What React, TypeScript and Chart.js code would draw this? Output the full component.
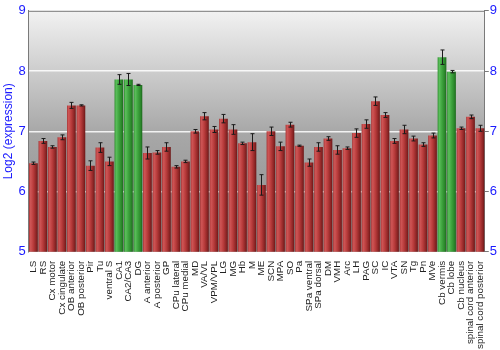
import React, { useEffect, useRef } from "react";
import { Chart, registerables } from "chart.js";
Chart.register(...registerables);

const categories = [
  "LS", "RS", "Cx motor", "Cx cingulate", "OB anterior", "OB posterior", "Pir", "Tu",
  "ventral S", "CA1", "CA2/CA3", "DG", "A anterior", "A posterior", "GP", "CPu lateral",
  "CPu medial", "MD", "VA/VL", "VPM/VPL", "LG", "MG", "Hb", "M", "ME", "SCN", "MPA", "SO",
  "Pa", "SPa ventral", "SPa dorsal", "DM", "VMH", "Arc", "LH", "PAG", "SC", "IC", "VTA",
  "SN", "Tg", "Pn", "MVe", "Cb vermis", "Cb lobe", "Cb nucleus", "spinal cord anterior",
  "spinal cord posterior",
];

const values = [
  6.47, 6.84, 6.74, 6.90, 7.43, 7.43, 6.43, 6.73,
  6.50, 7.86, 7.86, 7.77, 6.64, 6.65, 6.74, 6.41,
  6.50, 7.00, 7.25, 7.03, 7.21, 7.03, 6.80, 6.82, 6.11, 7.00, 6.75, 7.11,
  6.76, 6.48, 6.74, 6.88, 6.69, 6.72, 6.97, 7.12, 7.50, 7.27, 6.84,
  7.03, 6.88, 6.78, 6.93, 8.23, 7.99, 7.05, 7.24,
  7.05,
];

const errors = [
  0.02, 0.04, 0.02, 0.04, 0.05, 0.01, 0.08, 0.08,
  0.07, 0.08, 0.10, 0.01, 0.10, 0.03, 0.07, 0.02,
  0.02, 0.03, 0.06, 0.05, 0.07, 0.08, 0.02, 0.14, 0.17, 0.07, 0.07, 0.04,
  0.01, 0.06, 0.07, 0.03, 0.07, 0.02, 0.07, 0.07, 0.07, 0.04, 0.04,
  0.07, 0.04, 0.03, 0.04, 0.12, 0.02, 0.02, 0.03,
  0.05,
];

const highlighted = ["CA1", "CA2/CA3", "DG", "Cb vermis", "Cb lobe"];

const yMin = 5;
const yMax = 9;
const yStep = 1;

const FONT = "'Liberation Sans', Arial, sans-serif";

function barGradient(ctx: any) {
  const chart = ctx.chart;
  const area = chart.chartArea;
  if (!area) return "#b33";
  const xs = chart.scales.x;
  const i = ctx.dataIndex;
  const green = highlighted.includes(categories[i]);
  const cx = xs.getPixelForValue(i);
  const w = (area.right - area.left) / categories.length * 0.92;
  const g = chart.ctx.createLinearGradient(cx - w / 2, 0, cx + w / 2, 0);
  if (green) {
    g.addColorStop(0, "#2c8c2c");
    g.addColorStop(0.18, "#5cbf5c");
    g.addColorStop(0.5, "#3ea43e");
    g.addColorStop(0.82, "#2a862a");
    g.addColorStop(1, "#1c661c");
  } else {
    g.addColorStop(0, "#a83434");
    g.addColorStop(0.18, "#cf5656");
    g.addColorStop(0.5, "#b83b3b");
    g.addColorStop(0.82, "#8c2525");
    g.addColorStop(1, "#6a1616");
  }
  return g;
}

const bgPlugin = {
  id: "bgGradient",
  beforeDraw(chart: any) {
    const { ctx, chartArea: a } = chart;
    const g = ctx.createLinearGradient(0, a.top, 0, a.bottom);
    g.addColorStop(0, "#f2f2f2");
    g.addColorStop(0.5, "#a8a8a8");
    g.addColorStop(1, "#8c8c8c");
    ctx.save();
    ctx.fillStyle = g;
    ctx.fillRect(a.left, a.top, a.right - a.left, a.bottom - a.top);
    ctx.restore();
  },
  afterDraw(chart: any) {
    const { ctx, chartArea: a } = chart;
    ctx.save();
    ctx.strokeStyle = "#7a7a7a";
    ctx.lineWidth = 1;
    ctx.beginPath();
    ctx.moveTo(a.left, a.top + 0.5);
    ctx.lineTo(a.right, a.top + 0.5);
    ctx.stroke();
    ctx.restore();
  },
};

const errorPlugin = {
  id: "errorBars",
  afterDatasetsDraw(chart: any) {
    const { ctx } = chart;
    const xs = chart.scales.x;
    const ys = chart.scales.y;
    ctx.save();
    ctx.strokeStyle = "#1a1a1a";
    ctx.lineWidth = 1;
    values.forEach((v, i) => {
      const e = errors[i];
      const x = Math.round(xs.getPixelForValue(i)) + 0.5;
      const yt = ys.getPixelForValue(v + e);
      const yb = ys.getPixelForValue(v - e);
      ctx.beginPath();
      ctx.moveTo(x, yt);
      ctx.lineTo(x, yb);
      ctx.moveTo(x - 2, yt);
      ctx.lineTo(x + 2, yt);
      ctx.moveTo(x - 2, yb);
      ctx.lineTo(x + 2, yb);
      ctx.stroke();
    });
    ctx.restore();
  },
};

export default function App() {
  const ref = useRef<HTMLCanvasElement>(null);
  useEffect(() => {
    if (!ref.current) return;
    const chart = new Chart(ref.current, {
      type: "bar",
      data: {
        labels: categories,
        datasets: [
          {
            data: values,
            backgroundColor: barGradient as any,
            borderWidth: 0,
            barPercentage: 0.92,
            categoryPercentage: 1,
          },
        ],
      },
      plugins: [bgPlugin, errorPlugin],
      options: {
        animation: false,
        responsive: false,
        devicePixelRatio: 1,
        layout: { padding: { top: 4, right: 2, left: 1, bottom: 0 } },
        plugins: { legend: { display: false }, tooltip: { enabled: false } },
        scales: {
          x: {
            grid: { display: false },
            border: { display: false },
            ticks: {
              autoSkip: false,
              minRotation: 90,
              maxRotation: 90,
              padding: 1,
              color: "#222",
              font: { family: FONT, size: 9.8 },
            },
          },
          y: {
            min: yMin,
            max: yMax,
            position: "left",
            border: { display: true, color: "#7a7a7a" },
            grid: {
              drawTicks: false,
              lineWidth: 1.5,
              color: (c: any) =>
                c.tick && (c.tick.value === yMin || c.tick.value === yMax)
                  ? "rgba(0,0,0,0)"
                  : "rgba(255,255,255,0.85)",
            },
            ticks: {
              stepSize: yStep,
              padding: 3,
              color: "#1a1aff",
              font: { family: FONT, size: 13 },
            },
            title: {
              display: true,
              text: "Log2 (expression)",
              color: "#1a1aff",
              font: { family: FONT, size: 12 },
              padding: { top: 0, bottom: 0 },
            },
          },
          y2: {
            min: yMin,
            max: yMax,
            position: "right",
            border: { display: true, color: "#7a7a7a" },
            grid: { drawOnChartArea: false, drawTicks: true, tickLength: 4, color: "#7a7a7a" },
            ticks: {
              stepSize: yStep,
              padding: 1,
              color: "#1a1aff",
              font: { family: FONT, size: 13 },
            },
          },
        },
      },
    });
    return () => chart.destroy();
  }, []);
  return (
    <div style={{ position: "absolute", left: 0, top: 0, width: 500, height: 350, background: "#fff" }}>
      <canvas ref={ref} width={500} height={350} />
    </div>
  );
}
